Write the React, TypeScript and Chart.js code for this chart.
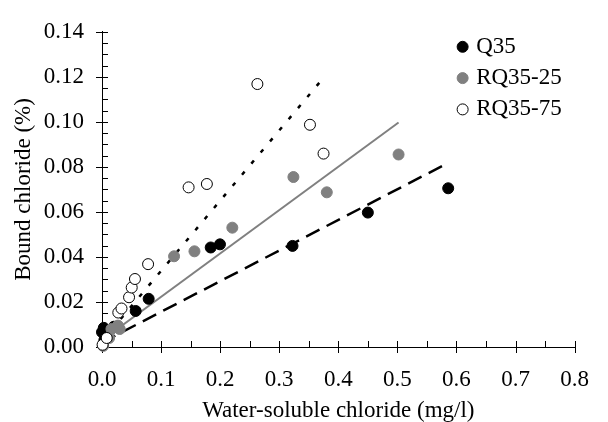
import React, { useEffect, useRef } from "react";
import { Chart, registerables } from "chart.js";

Chart.register(...registerables);

// ---- Data ----
const q35X = [0.0, 0.003, 0.004, 0.012, 0.02, 0.057, 0.079, 0.184, 0.1997, 0.3225, 0.45, 0.586];
const q35Y = [0.0066, 0.0085, 0.003, 0.0075, 0.009, 0.016, 0.0214, 0.0442, 0.0456, 0.0449, 0.0597, 0.0705];

const rq25X = [0.002, 0.012, 0.016, 0.027, 0.03, 0.122, 0.1565, 0.2206, 0.324, 0.3805, 0.502];
const rq25Y = [0.0005, 0.004, 0.008, 0.0095, 0.008, 0.0403, 0.0425, 0.053, 0.0755, 0.0687, 0.0855];

const rq75X = [0.001, 0.008, 0.0276, 0.033, 0.0458, 0.0503, 0.0558, 0.078, 0.1466, 0.1775, 0.263, 0.352, 0.375];
const rq75Y = [0.001, 0.004, 0.0153, 0.0171, 0.0221, 0.0264, 0.0302, 0.0368, 0.0709, 0.0724, 0.1168, 0.0987, 0.0859];

const q35FitX = [0, 0.584];
const q35FitY = [0.002, 0.0815];
const rq25FitX = [0, 0.502];
const rq25FitY = [0.003, 0.0997];
const rq75FitX = [0, 0.368];
const rq75FitY = [0.0026, 0.1174];

const seriesLabels = ["Q35", "RQ35-25", "RQ35-75"];
const xTickStep = 0.1;
const yTickStep = 0.02;
const xMinorStep = 0.05;
const yMinorStep = 0.005;

const xTitle = "Water-soluble chloride (mg/l)";
const yTitle = "Bound chloride (%)";

const toPoints = (xs: number[], ys: number[]) => xs.map((x, i) => ({ x, y: ys[i] }));

const FONT = "'Liberation Serif', 'Times New Roman', serif";
const FSIZE = 23;
const GRAY = "#808080";

const tickPlugin = {
  id: "tickMarks",
  beforeDatasetsDraw(chart: any) {
    const { ctx, chartArea, scales } = chart;
    const xs = scales.x;
    const ys = scales.y;
    ctx.save();
    ctx.strokeStyle = "#000";
    ctx.lineWidth = 1;
    ctx.beginPath();
    const nx = Math.round((xs.max - xs.min) / xMinorStep);
    for (let i = 0; i <= nx; i++) {
      const v = xs.min + i * xMinorStep;
      const px = Math.round(xs.getPixelForValue(v)) + 0.5;
      const major = i % 2 === 0;
      ctx.moveTo(px, chartArea.bottom - 6);
      ctx.lineTo(px, major ? chartArea.bottom + 6 : chartArea.bottom);
    }
    const ny = Math.round((ys.max - ys.min) / yMinorStep);
    for (let i = 0; i <= ny; i++) {
      const v = ys.min + i * yMinorStep;
      const py = Math.round(ys.getPixelForValue(v)) + 0.5;
      const major = i % 4 === 0;
      ctx.moveTo(major ? chartArea.left - 6 : chartArea.left, py);
      ctx.lineTo(chartArea.left + 6, py);
    }
    ctx.stroke();
    ctx.restore();
  },
};

const legendPlugin = {
  id: "insideLegend",
  afterDraw(chart: any) {
    const { ctx, chartArea } = chart;
    ctx.save();
    const styles = [
      { fill: "#000", stroke: "#000" },
      { fill: GRAY, stroke: GRAY },
      { fill: "#fff", stroke: "#000" },
    ];
    seriesLabels.forEach((label, i) => {
      const cx = chartArea.right - 112;
      const cy = chartArea.top + 15 + i * 31.3;
      ctx.beginPath();
      ctx.arc(cx, cy, 5.5, 0, Math.PI * 2);
      ctx.fillStyle = styles[i].fill;
      ctx.fill();
      ctx.lineWidth = 1;
      ctx.strokeStyle = styles[i].stroke;
      ctx.stroke();
      ctx.fillStyle = "#000";
      ctx.font = `${FSIZE}px ${FONT}`;
      ctx.textAlign = "left";
      ctx.textBaseline = "middle";
      ctx.fillText(label, cx + 13.5, cy);
    });
    ctx.restore();
  },
};

export default function App() {
  const ref = useRef<HTMLCanvasElement | null>(null);

  useEffect(() => {
    if (!ref.current) return;
    const chart = new Chart(ref.current, {
      type: "scatter",
      data: {
        datasets: [
          {
            label: seriesLabels[2],
            data: toPoints(rq75X, rq75Y),
            backgroundColor: "#fff",
            borderColor: "#000",
            borderWidth: 1,
            pointRadius: 5.5,
            order: 1,
            clip: false,
          } as any,
          {
            label: seriesLabels[1],
            data: toPoints(rq25X, rq25Y),
            backgroundColor: GRAY,
            borderColor: GRAY,
            borderWidth: 1,
            pointRadius: 5.5,
            order: 2,
            clip: false,
          },
          {
            label: seriesLabels[0],
            data: toPoints(q35X, q35Y),
            backgroundColor: "#000",
            borderColor: "#000",
            borderWidth: 1,
            pointRadius: 5.5,
            order: 3,
            clip: false,
          },
          {
            label: "Q35 fit",
            data: toPoints(q35FitX, q35FitY),
            showLine: true,
            borderColor: "#000",
            borderWidth: 2.5,
            borderDash: [15, 8],
            pointRadius: 0,
            order: 4,
          },
          {
            label: "RQ35-25 fit",
            data: toPoints(rq25FitX, rq25FitY),
            showLine: true,
            borderColor: GRAY,
            borderWidth: 2,
            pointRadius: 0,
            order: 5,
          },
          {
            label: "RQ35-75 fit",
            data: toPoints(rq75FitX, rq75FitY),
            showLine: true,
            borderColor: "#000",
            borderWidth: 2.5,
            borderDash: [4, 10.5],
            pointRadius: 0,
            order: 6,
          },
        ],
      },
      options: {
        responsive: false,
        animation: false,
        layout: { padding: { top: 19, right: 23, left: 0, bottom: 0 } },
        plugins: {
          legend: { display: false },
          tooltip: { enabled: false },
        },
        scales: {
          x: {
            type: "linear",
            min: 0,
            max: 0.8,
            grid: { display: false, drawTicks: false },
            border: { display: true, color: "#000", width: 1 },
            ticks: {
              stepSize: xTickStep,
              padding: 19,
              color: "#000",
              font: { family: FONT, size: FSIZE },
              callback: (v: any) => Number(v).toFixed(1),
            },
            title: {
              display: true,
              text: xTitle,
              color: "#000",
              font: { family: FONT, size: FSIZE, lineHeight: 1 },
              padding: { top: 0, bottom: 0 },
            },
            afterFit: (s: any) => {
              s.height = 75;
            },
          },
          y: {
            type: "linear",
            min: 0,
            max: 0.14,
            grid: { display: false, drawTicks: false },
            border: { display: true, color: "#000", width: 1 },
            ticks: {
              stepSize: yTickStep,
              padding: 18,
              color: "#000",
              font: { family: FONT, size: FSIZE },
              callback: (v: any) => Number(v).toFixed(2),
            },
            title: {
              display: true,
              text: yTitle,
              color: "#000",
              font: { family: FONT, size: FSIZE, lineHeight: 1 },
              padding: { top: 12, bottom: 0 },
            },
            afterFit: (s: any) => {
              s.width = 102;
            },
          },
        },
      },
      plugins: [tickPlugin, legendPlugin],
    });
    return () => chart.destroy();
  }, []);

  return (
    <div style={{ position: "absolute", left: 0, top: 0, width: 608, height: 422, background: "#fff" }}>
      <canvas ref={ref} width={608} height={422} />
    </div>
  );
}
